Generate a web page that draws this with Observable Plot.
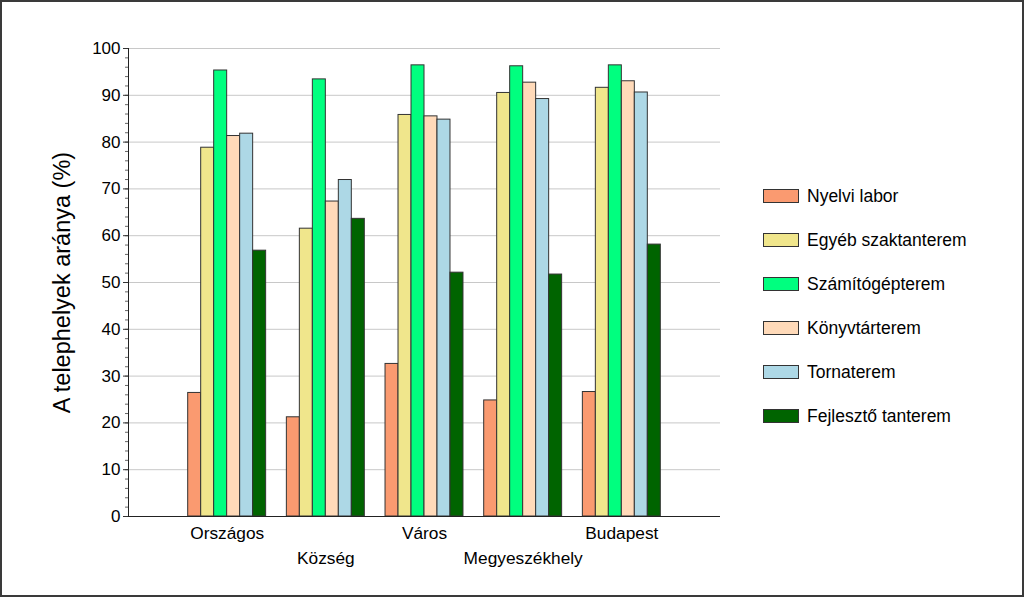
<!DOCTYPE html>
<html>
<head>
<meta charset="utf-8">
<script src="https://cdn.jsdelivr.net/npm/d3@7"></script>
<script src="https://cdn.jsdelivr.net/npm/@observablehq/plot@0.6"></script>
<style>
  html, body { margin: 0; padding: 0; background: white; }
  #wrap { position: relative; width: 1024px; height: 597px; font-family: "Liberation Sans", Arial, sans-serif; }
  #wrap svg { display: block; }
  #frame { position: absolute; left: 0; top: 0; width: 1024px; height: 597px; box-sizing: border-box; border: 2px solid #3a3a3a; pointer-events: none; }
  #legend { position: absolute; left: 763px; top: 189px; }
  .item { position: absolute; left: 0; height: 14px; white-space: nowrap; }
  .sw { position: absolute; left: 0; top: 0; width: 34px; height: 12px; border: 1px solid #333; }
  .lb { position: absolute; left: 44px; top: -3px; font-size: 17.5px; line-height: 20px; color: #000; }
</style>
</head>
<body>
<div id="wrap"><div id="frame"></div><div id="legend"></div></div>
<script>
const categories = ["Országos", "Község", "Város", "Megyeszékhely", "Budapest"];
const series = ["Nyelvi labor", "Egyéb szaktanterem", "Számítógépterem", "Könyvtárterem", "Tornaterem", "Fejlesztő tanterem"];
const colors = ["#FA9A70", "#F0E68C", "#00FF7F", "#FFDAB9", "#ADD8E6", "#006400"];

const nyelviLabor       = [26.4, 21.2, 32.6, 24.8, 26.6];
const egyebSzaktanterem = [78.8, 61.5, 85.8, 90.5, 91.6];
const szamitogepterem   = [95.3, 93.4, 96.4, 96.2, 96.4];
const konyvtarterem     = [81.3, 67.3, 85.5, 92.7, 93.0];
const tornaterem        = [81.8, 71.9, 84.8, 89.2, 90.6];
const fejleszto         = [56.8, 63.6, 52.1, 51.7, 58.1];

const yTicks = [0, 10, 20, 30, 40, 50, 60, 70, 80, 90, 100];
const yLabel = "A telephelyek aránya (%)";

const values = [nyelviLabor, egyebSzaktanterem, szamitogepterem, konyvtarterem, tornaterem, fejleszto];
const data = categories.flatMap((c, ci) => series.map((s, si) => ({category: c, ci, series: s, si, value: values[si][ci]})));

const groupWidth = 0.79; // share of each category slot occupied by its bars
const barW = groupWidth / series.length;

const plot = Plot.plot({
  width: 1024,
  height: 597,
  marginLeft: 128,
  marginRight: 304,
  marginTop: 48,
  marginBottom: 81,
  x: {type: "linear", domain: [0, categories.length + 1], axis: null, label: null},
  y: {domain: [0, 100], axis: null, label: null},
  color: {domain: series, range: colors},
  style: {fontFamily: "'Liberation Sans', Arial, sans-serif", background: "white", color: "#000"},
  marks: [
    Plot.ruleY(yTicks.filter(d => d > 0), {stroke: "#c8c8c8", strokeWidth: 1}),
    Plot.rectY(data, {
      x1: d => d.ci + 1 - groupWidth / 2 + d.si * barW,
      x2: d => d.ci + 1 - groupWidth / 2 + (d.si + 1) * barW,
      y1: 0,
      y2: "value",
      fill: "series",
      stroke: "#333",
      strokeWidth: 1
    }),
    Plot.ruleY([0], {stroke: "#222", strokeWidth: 1}),
    Plot.ruleX([0], {y1: 0, y2: 100, stroke: "#222", strokeWidth: 1}),
    Plot.axisY({ticks: d3.range(0, 101, 2), tickSize: 3, tickFormat: () => "", label: null, stroke: "#666"}),
    Plot.axisY({ticks: yTicks, tickSize: 5, tickPadding: 3, fontSize: 17, label: null, stroke: "#333", fill: "#000"}),
    Plot.text(categories, {filter: (d, i) => i % 2 === 0, x: (d, i) => i + 1, y: 0, text: d => d, dy: 17, fontSize: 17.3, fill: "#000", lineAnchor: "middle"}),
    Plot.text(categories, {filter: (d, i) => i % 2 === 1, x: (d, i) => i + 1, y: 0, text: d => d, dy: 42, fontSize: 17.3, fill: "#000", lineAnchor: "middle"}),
    Plot.text([yLabel], {frameAnchor: "left", dx: -66, rotate: -90, fontSize: 23.5, fill: "#000", text: d => d, textAnchor: "middle", lineAnchor: "middle"})
  ]
});

const wrap = document.getElementById("wrap");
wrap.insertBefore(plot, wrap.firstChild);

const legend = d3.select("#legend");
series.forEach((s, i) => {
  const item = legend.append("div").attr("class", "item").style("top", (i * 44) + "px");
  item.append("div").attr("class", "sw").style("background", colors[i]);
  item.append("div").attr("class", "lb").text(s);
});
</script>
</body>
</html>
